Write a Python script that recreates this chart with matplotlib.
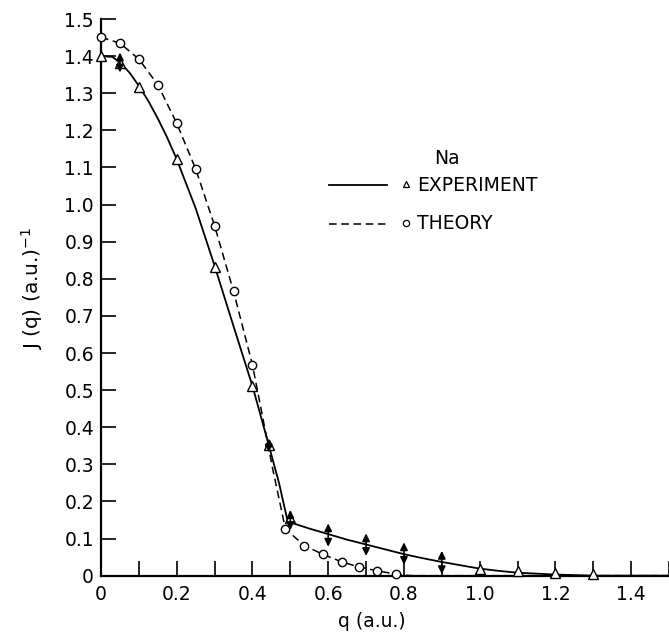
import matplotlib
matplotlib.use("Agg")
import matplotlib.pyplot as plt
from matplotlib.ticker import MultipleLocator, FixedLocator, FixedFormatter

plt.rcParams["font.family"] = ["DejaVu Sans"]

# experiment (solid curve + triangles)
exp_curve_q = [0.00, 0.03, 0.05, 0.075, 0.10, 0.125, 0.15, 0.175, 0.20, 0.25, 0.30, 0.35,
               0.40, 0.443, 0.47, 0.493, 0.55, 0.60, 0.65, 0.70, 0.75, 0.80, 0.85,
               0.90, 0.95, 1.00, 1.05, 1.10, 1.20, 1.30, 1.50]
exp_curve_j = [1.400, 1.398, 1.383, 1.356, 1.320, 1.279, 1.232, 1.180, 1.122, 0.990,
               0.835, 0.672, 0.511, 0.352, 0.250, 0.146, 0.127, 0.112, 0.097, 0.084,
               0.071, 0.058, 0.047, 0.037, 0.028, 0.019, 0.013, 0.008, 0.003, 0.000,
               0.000]
exp_pts_q = [0.00, 0.05, 0.10, 0.20, 0.30, 0.40, 0.443, 0.50, 1.00, 1.10, 1.20, 1.30]
exp_pts_j = [1.400, 1.381, 1.318, 1.122, 0.833, 0.512, 0.352, 0.155, 0.017, 0.013, 0.008, 0.005]

# experimental uncertainty (double arrows)
err_q = [0.05, 0.443, 0.50, 0.60, 0.70, 0.80, 0.90]
err_lo = [1.356, 0.332, 0.123, 0.078, 0.053, 0.029, 0.004]
err_hi = [1.410, 0.370, 0.177, 0.141, 0.114, 0.090, 0.067]

# theory (dashed curve + circles)
th_curve_q = [0.00, 0.05, 0.10, 0.15, 0.20, 0.25, 0.30, 0.35, 0.40, 0.453, 0.487,
              0.537, 0.585, 0.636, 0.68, 0.73, 0.78, 0.82, 1.50]
th_curve_j = [1.451, 1.435, 1.392, 1.323, 1.219, 1.096, 0.943, 0.766, 0.568, 0.290,
              0.126, 0.081, 0.058, 0.037, 0.024, 0.013, 0.004, 0.000, 0.000]
th_pts_q = [0.00, 0.05, 0.10, 0.15, 0.20, 0.25, 0.30, 0.35, 0.40, 0.487,
            0.537, 0.585, 0.636, 0.68, 0.73, 0.78]
th_pts_j = [1.451, 1.435, 1.392, 1.323, 1.219, 1.096, 0.943, 0.766, 0.568, 0.126,
            0.081, 0.058, 0.037, 0.024, 0.013, 0.004]

y_ticks = [0.0, 0.1, 0.2, 0.3, 0.4, 0.5, 0.6, 0.7, 0.8, 0.9, 1.0, 1.1, 1.2, 1.3, 1.4, 1.5]
y_labels = ["0", "0.1", "0.2", "0.3", "0.4", "0.5", "0.6", "0.7", "0.8", "0.9",
            "1.0", "1.1", "1.2", "1.3", "1.4", "1.5"]
x_ticks = [0.0, 0.2, 0.4, 0.6, 0.8, 1.0, 1.2, 1.4]
x_labels = ["0", "0.2", "0.4", "0.6", "0.8", "1.0", "1.2", "1.4"]

fig = plt.figure(figsize=(6.69, 6.42), dpi=100)
ax = fig.add_axes([0.151, 0.1033, 0.849, 0.867])

ax.plot(exp_curve_q, exp_curve_j, "-", color="black", lw=1.3, clip_on=False)
ax.plot(th_curve_q, th_curve_j, "--", color="black", lw=1.1, dashes=(5, 3), clip_on=False)
ax.plot(exp_pts_q, exp_pts_j, "^", ms=6.5, mfc="white", mec="black", mew=1.0,
        ls="none", clip_on=False, zorder=4)
ax.plot(th_pts_q, th_pts_j, "o", ms=6, mfc="white", mec="black", mew=1.0,
        ls="none", clip_on=False, zorder=4)

for q, lo, hi in zip(err_q, err_lo, err_hi):
    ax.annotate("", xy=(q, hi), xytext=(q, lo),
                arrowprops=dict(arrowstyle="<|-|>,head_length=0.45,head_width=0.22",
                                color="black", lw=1.2, shrinkA=0, shrinkB=0),
                zorder=5)

ax.set_xlim(0, 1.5)
ax.set_ylim(0, 1.5)
for s in ("top", "right"):
    ax.spines[s].set_visible(False)
for s in ("left", "bottom"):
    ax.spines[s].set_linewidth(1.6)

ax.yaxis.set_major_locator(FixedLocator(y_ticks))
ax.yaxis.set_major_formatter(FixedFormatter(y_labels))
ax.xaxis.set_major_locator(FixedLocator(x_ticks))
ax.xaxis.set_major_formatter(FixedFormatter(x_labels))
ax.xaxis.set_minor_locator(MultipleLocator(0.1))
ax.tick_params(axis="both", which="both", direction="in", length=11, width=1.2,
               labelsize=13.5, colors="black")
ax.tick_params(axis="y", pad=5)
ax.tick_params(axis="x", pad=7)

ax.set_ylabel("J (q) (a.u.)$^{-1}$", fontsize=14.5)
ax.yaxis.set_label_coords(-0.098, 0.516)
ax.set_xlabel("q (a.u.)", fontsize=13.5)
ax.xaxis.set_label_coords(0.476, -0.066)

# legend drawn by hand
tr = ax.transAxes
ax.text(0.587, 0.750, "Na", transform=tr, fontsize=13.5, ha="left", va="center")
ax.plot([0.402, 0.503], [0.701, 0.701], "-", color="black", lw=1.3, transform=tr)
ax.plot([0.537], [0.703], "^", ms=5, mfc="white", mec="black", mew=0.9, transform=tr)
ax.text(0.557, 0.701, "EXPERIMENT", transform=tr, fontsize=13.5, ha="left", va="center")
ax.plot([0.402, 0.503], [0.632, 0.632], "--", color="black", lw=1.1, dashes=(5, 3),
        transform=tr)
ax.plot([0.537], [0.634], "o", ms=4.5, mfc="white", mec="black", mew=0.9, transform=tr)
ax.text(0.557, 0.632, "THEORY", transform=tr, fontsize=13.5, ha="left", va="center")

fig.savefig("out.png", dpi=100)
